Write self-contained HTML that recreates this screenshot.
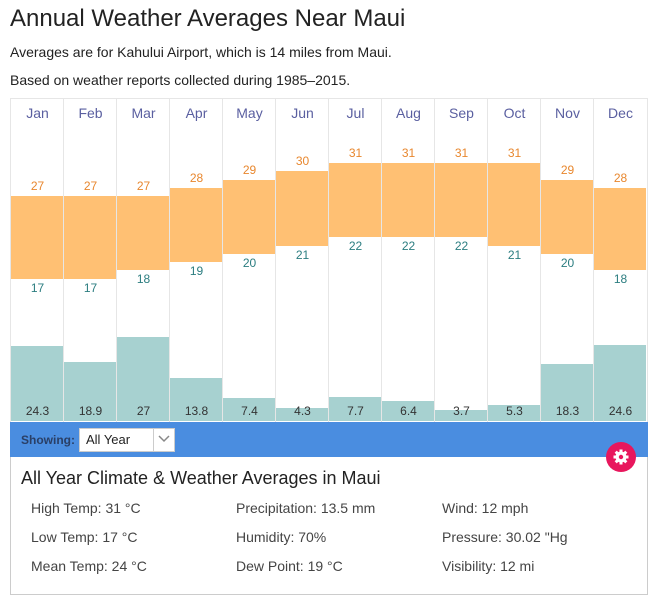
<!DOCTYPE html>
<html><head><meta charset="utf-8"><style>
body{margin:0;width:661px;height:606px;background:#fff;font-family:"Liberation Sans",sans-serif;color:#222;position:relative;overflow:hidden}
.a{position:absolute;white-space:nowrap}
.col{position:absolute;top:99px;height:323px;width:52px;border-left:1px solid #e6e6e6}
.m{position:absolute;width:53px;text-align:center;font-size:14px;color:#5a5fa0;top:105px}
.hb{position:absolute;background:#ffc073;width:52px}
.rb{position:absolute;background:#a7d1d0;width:52px}
.t{position:absolute;width:53px;text-align:center;font-size:12px}
</style></head><body>
<div class="a" style="left:10px;top:5px;font-size:24px;color:#222">Annual Weather Averages Near Maui</div>
<div class="a" style="left:10px;top:44px;font-size:14px">Averages are for Kahului Airport, which is 14 miles from Maui.</div>
<div class="a" style="left:10px;top:72px;font-size:14px">Based on weather reports collected during 1985–2015.</div>
<div style="position:absolute;left:10px;top:98px;width:638px;height:324px;border:1px solid #e6e6e6;border-bottom:none;box-sizing:border-box"></div>
<div id="c"></div>
<div style="position:absolute;left:10px;top:422px;width:638px;height:35px;background:#4a8de0"></div>
<div class="a" style="left:21px;top:433px;font-size:12px;font-weight:bold;color:#2a3f66">Showing:</div>
<div style="position:absolute;left:79px;top:428px;width:96px;height:24px;background:#fff;border:1px solid #ccc;box-sizing:border-box"></div>
<div class="a" style="left:86px;top:432px;font-size:13px">All Year</div>
<div style="position:absolute;left:153px;top:428px;width:1px;height:24px;background:#ccc"></div>
<svg style="position:absolute;left:157px;top:434px" width="14" height="10"><polyline points="2,2 7,7 12,2" fill="none" stroke="#888" stroke-width="1.5"/></svg>
<div style="position:absolute;left:10px;top:457px;width:638px;height:138px;border:1px solid #ccc;border-top:none;box-sizing:border-box"></div>
<div style="position:absolute;left:606px;top:442px;width:30px;height:30px;border-radius:50%;background:#e8175d"></div>
<svg style="position:absolute;left:612px;top:448px" width="18" height="18" viewBox="0 0 18 18"><g fill="#fff"><circle cx="9" cy="9" r="5.5"/><rect x="7.5" y="1.5" width="3" height="15"/><rect x="1.5" y="7.5" width="15" height="3"/><rect x="7.5" y="1.5" width="3" height="15" transform="rotate(45 9 9)"/><rect x="7.5" y="1.5" width="3" height="15" transform="rotate(-45 9 9)"/></g><circle cx="9" cy="9" r="2.2" fill="#e8175d"/></svg>
<div class="a" style="left:21px;top:468px;font-size:18px">All Year Climate &amp; Weather Averages in Maui</div>
<div class="a" style="left:31px;top:500px;font-size:14px;color:#444">High Temp: 31 °C</div>
<div class="a" style="left:31px;top:529px;font-size:14px;color:#444">Low Temp: 17 °C</div>
<div class="a" style="left:31px;top:558px;font-size:14px;color:#444">Mean Temp: 24 °C</div>
<div class="a" style="left:236px;top:500px;font-size:14px;color:#444">Precipitation: 13.5 mm</div>
<div class="a" style="left:236px;top:529px;font-size:14px;color:#444">Humidity: 70%</div>
<div class="a" style="left:236px;top:558px;font-size:14px;color:#444">Dew Point: 19 °C</div>
<div class="a" style="left:442px;top:500px;font-size:14px;color:#444">Wind: 12 mph</div>
<div class="a" style="left:442px;top:529px;font-size:14px;color:#444">Pressure: 30.02 "Hg</div>
<div class="a" style="left:442px;top:558px;font-size:14px;color:#444">Visibility: 12 mi</div>
<script>
var M=["Jan","Feb","Mar","Apr","May","Jun","Jul","Aug","Sep","Oct","Nov","Dec"],
H=[27,27,27,28,29,30,31,31,31,31,29,28],L=[17,17,18,19,20,21,22,22,22,21,20,18],
R=[24.3,18.9,27,13.8,7.4,4.3,7.7,6.4,3.7,5.3,18.3,24.6],s="";
function y(t){return 196-(t-27)*8.25}
for(var i=0;i<12;i++){var x=11+i*53;
if(i>0)s+='<div class="col" style="left:'+(x-1)+'px"></div>';
s+='<div class="m" style="left:'+x+'px">'+M[i]+'</div>';
var a=y(H[i]),b=y(L[i]);
s+='<div class="hb" style="left:'+x+'px;top:'+a+'px;height:'+(b-a)+'px"></div>';
s+='<div class="t" style="left:'+x+'px;top:'+(a-17)+'px;color:#e8872e">'+H[i]+'</div>';
s+='<div class="t" style="left:'+x+'px;top:'+(b+2)+'px;color:#2b7d80">'+L[i]+'</div>';
var h=R[i]*3.1;
s+='<div class="rb" style="left:'+x+'px;top:'+(421-h)+'px;height:'+h+'px"></div>';
s+='<div class="t" style="left:'+x+'px;top:404px;color:#333">'+R[i]+'</div>';}
document.getElementById("c").innerHTML=s;
</script>
</body></html>
